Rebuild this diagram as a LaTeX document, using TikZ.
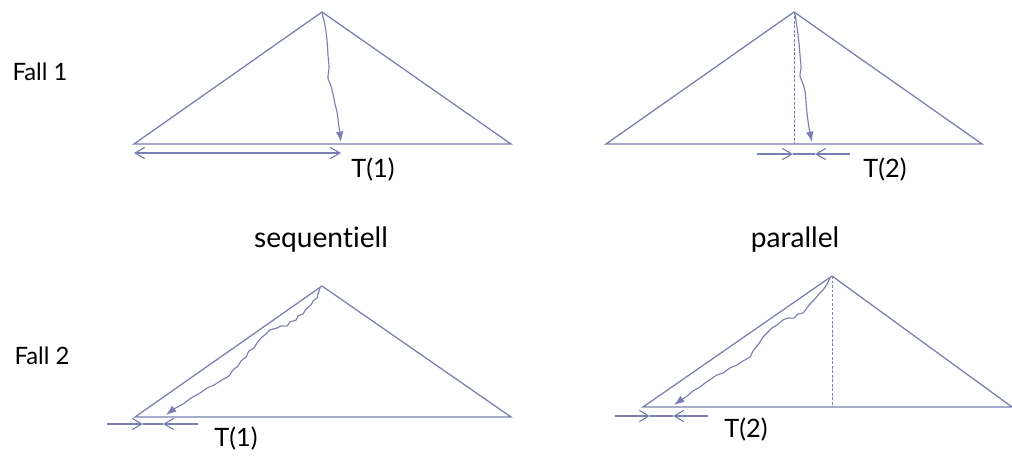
\documentclass[tikz,border=0pt]{standalone}
\usepackage{fontspec}
\setmainfont{Lato}[Ligatures={NoCommon}]
\usepackage{tikz}
\usetikzlibrary{arrows.meta, positioning}
\definecolor{lila}{RGB}{122, 126, 176}

\begin{document}
\begin{tikzpicture}[x=0.025cm, y=-0.025cm,
    seite/.style={draw=lila, line width=0.9pt},
    lot/.style={draw=lila, line width=0.7pt, dashed, dash pattern=on 2pt off 1.2pt},
    riss/.style={draw=lila, line width=0.8pt, -{Latex[length=2.6mm, width=1.9mm]}},
    mass/.style={draw=lila, line width=0.8pt, -{Straight Barb[length=2.4mm, width=2.8mm]}},
    beschr/.style={inner sep=0pt, font=\fontsize{18}{20}\selectfont},
    fall/.style={inner sep=0pt, font=\fontsize{17}{20}\selectfont},
    modus/.style={inner sep=0pt, font=\fontsize{20}{22}\selectfont}]
  \useasboundingbox (0,0) rectangle (1012,459);

  % Fall 1, sequentiell
  \coordinate (a1) at (322,12);
  \coordinate (l1) at (134,144);
  \coordinate (r1) at (511,144);
  \draw[seite] (l1) -- (a1) -- (r1) -- cycle;
  \draw[riss] plot[smooth, tension=0.4] coordinates {(322,13) (325,25) (327,40) (328,55) (329,67) (328,78) (331,86) (333,94) (335,104) (337,112) (339,127) (341,142)};
  \coordinate (m1a) at (134,153);
  \coordinate (m1b) at (341,153);
  \draw[draw=lila, line width=0.8pt, {Straight Barb[length=2.4mm, width=2.8mm]}-{Straight Barb[length=2.4mm, width=2.8mm]}] (m1a) -- (m1b);
  \node[beschr] (t1a) at (373,170) {T(1)};

  % Fall 1, parallel
  \coordinate (a2) at (794,12);
  \coordinate (l2) at (606,144);
  \coordinate (r2) at (982,144);
  \coordinate (f2) at (794,144);
  \draw[seite] (l2) -- (a2) -- (r2) -- cycle;
  \draw[lot] (a2) -- (f2);
  \draw[riss] plot[smooth, tension=0.4] coordinates {(795,14) (797,27) (799,43) (800,55) (801,67) (800,76) (803,84) (805,91) (806,102) (807,113) (809,128) (812,142)};
  \coordinate (m2a) at (757,154);
  \coordinate (m2b) at (793,154);
  \coordinate (m2c) at (815,154);
  \coordinate (m2d) at (850,154);
  \draw[mass] (m2a) -- (m2b);
  \draw[mass] (m2d) -- (m2c);
  \draw[lila, line width=0.8pt] (m2b) -- (m2c);
  \node[beschr] (t2a) at (885,170) {T(2)};

  \node[fall] (fall1) at (40,72) {Fall 1};
  \node[modus] (seq) at (321,240) {sequentiell};
  \node[modus] (par) at (795,240) {parallel};
  \node[fall] (fall2) at (42,356) {Fall 2};

  % Fall 2, sequentiell
  \coordinate (a3) at (322,286);
  \coordinate (l3) at (135,417);
  \coordinate (r3) at (511,417);
  \draw[seite] (l3) -- (a3) -- (r3) -- cycle;
  \draw[riss] plot[smooth, tension=0.3] coordinates {(320,288) (318,294) (317,298) (313,301) (311,305) (306,309) (303,314) (298,316) (296,320) (290,322) (287,326) (281,326) (277,328) (270,330) (266,334) (261,338) (257,343) (254,348) (249,351) (246,357) (241,361) (238,366) (233,370) (229,376) (222,380) (214,385) (207,388) (200,393) (191,398) (183,404) (174,409) (166,415)};
  \coordinate (m3a) at (107,424);
  \coordinate (m3b) at (143,424);
  \coordinate (m3c) at (163,424);
  \coordinate (m3d) at (198,424);
  \draw[mass] (m3a) -- (m3b);
  \draw[mass] (m3d) -- (m3c);
  \draw[lila, line width=0.8pt] (m3b) -- (m3c);
  \node[beschr] (t1b) at (236,439) {T(1)};

  % Fall 2, parallel
  \coordinate (a4) at (832,276);
  \coordinate (l4) at (643,407);
  \coordinate (r4) at (1012,407);
  \coordinate (f4) at (832,407);
  \draw[seite] (l4) -- (a4) -- (r4) -- cycle;
  \draw[lot] (a4) -- (f4);
  \draw[riss] plot[smooth, tension=0.3] coordinates {(830,278) (827,284) (823,290) (819,294) (814,300) (809,305) (803,313) (798,314) (794,318) (788,318) (783,320) (777,325) (772,328) (767,333) (763,337) (760,342) (757,346) (753,351) (750,357) (743,361) (737,365) (730,368) (723,373) (717,375) (711,379) (705,383) (700,387) (693,391) (687,396) (681,400) (674,405)};
  \coordinate (m4a) at (615,416);
  \coordinate (m4b) at (650,416);
  \coordinate (m4c) at (673,416);
  \coordinate (m4d) at (708,416);
  \draw[mass] (m4a) -- (m4b);
  \draw[mass] (m4d) -- (m4c);
  \draw[lila, line width=0.8pt] (m4b) -- (m4c);
  \node[beschr] (t2b) at (746,430) {T(2)};
\end{tikzpicture}
\end{document}
